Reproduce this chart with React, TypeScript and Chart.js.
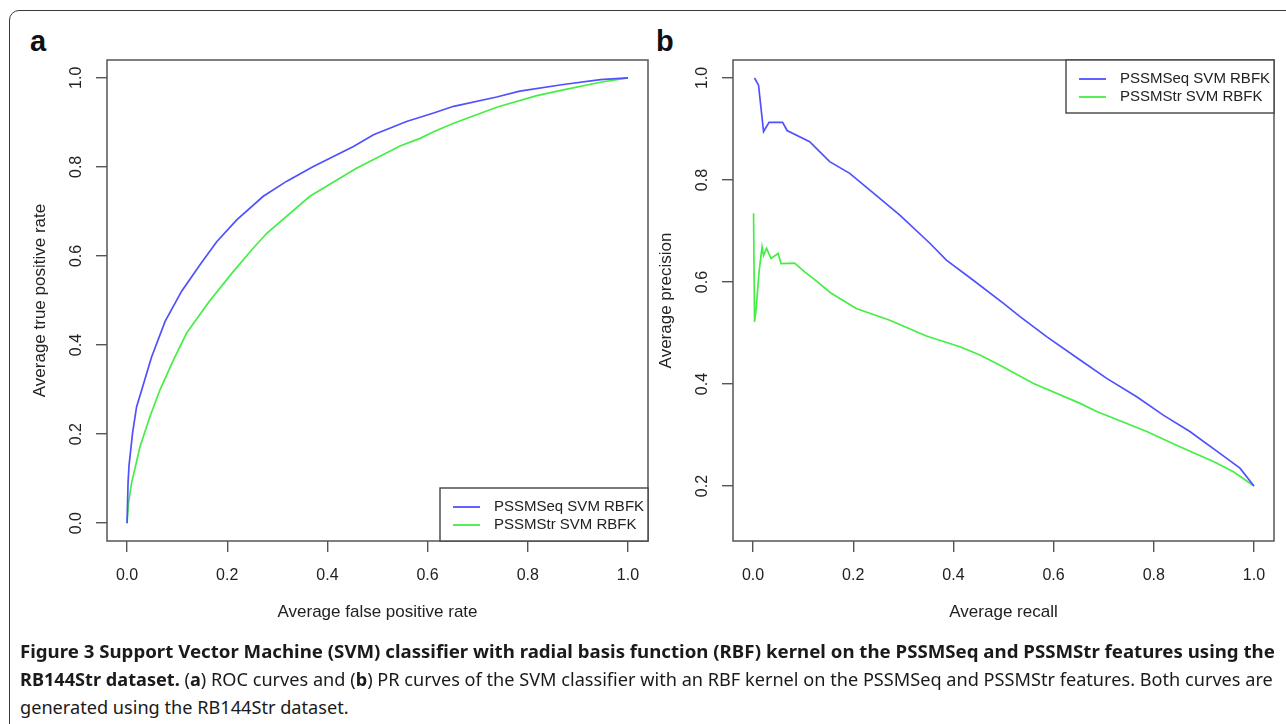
import React, { useEffect, useLayoutEffect, useRef, useState } from "react";
import { Chart, registerables } from "chart.js";
Chart.register(...registerables);

// ---------- data ----------
const seriesLabels = ["PSSMSeq SVM RBFK", "PSSMStr SVM RBFK"];
const seriesColors = ["#5050ff", "#45ee45"];

// Panel a: ROC curves
const rocFprSeq = [0, 0.002, 0.004, 0.011, 0.019, 0.033, 0.049, 0.076, 0.109, 0.146, 0.179, 0.219, 0.272, 0.319, 0.372, 0.452, 0.492, 0.558, 0.612, 0.652, 0.738, 0.784, 0.871, 0.945, 1.0];
const rocTprSeq = [0, 0.09, 0.13, 0.202, 0.261, 0.313, 0.373, 0.453, 0.521, 0.581, 0.632, 0.681, 0.734, 0.768, 0.801, 0.846, 0.872, 0.902, 0.921, 0.936, 0.957, 0.970, 0.985, 0.996, 1.0];
const rocFprStr = [0, 0.003, 0.009, 0.026, 0.046, 0.066, 0.093, 0.119, 0.164, 0.21, 0.249, 0.279, 0.365, 0.458, 0.545, 0.585, 0.612, 0.652, 0.738, 0.818, 0.871, 0.945, 1.0];
const rocTprStr = [0, 0.045, 0.09, 0.172, 0.24, 0.3, 0.367, 0.427, 0.498, 0.562, 0.614, 0.651, 0.734, 0.797, 0.847, 0.864, 0.879, 0.898, 0.934, 0.96, 0.973, 0.99, 1.0];

// Panel b: PR curves
const prRecallSeq = [0.003, 0.011, 0.021, 0.032, 0.059, 0.068, 0.113, 0.153, 0.193, 0.253, 0.293, 0.353, 0.386, 0.439, 0.5, 0.533, 0.586, 0.653, 0.706, 0.766, 0.819, 0.872, 0.932, 0.972, 1.0];
const prPrecSeq = [1.0, 0.986, 0.895, 0.913, 0.913, 0.897, 0.875, 0.836, 0.813, 0.764, 0.731, 0.676, 0.643, 0.604, 0.558, 0.532, 0.493, 0.447, 0.411, 0.375, 0.339, 0.307, 0.264, 0.235, 0.2];
const prRecallStr = [0.001, 0.003, 0.006, 0.012, 0.018, 0.021, 0.027, 0.036, 0.05, 0.056, 0.083, 0.103, 0.12, 0.156, 0.206, 0.273, 0.346, 0.413, 0.453, 0.493, 0.56, 0.653, 0.686, 0.786, 0.852, 0.919, 0.959, 1.0];
const prPrecStr = [0.735, 0.522, 0.545, 0.62, 0.669, 0.652, 0.666, 0.646, 0.656, 0.636, 0.637, 0.62, 0.607, 0.578, 0.548, 0.525, 0.494, 0.473, 0.457, 0.437, 0.401, 0.362, 0.346, 0.307, 0.277, 0.248, 0.228, 0.2];

// tick values
const rocTicks = [0, 0.2, 0.4, 0.6, 0.8, 1.0];
const prXTicks = [0, 0.2, 0.4, 0.6, 0.8, 1.0];
const prYTicks = [0.2, 0.4, 0.6, 0.8, 1.0];

const FONT = "'Liberation Sans', Arial, Helvetica, sans-serif";

function pairs(xs: number[], ys: number[]) {
  return xs.map((x, i) => ({ x, y: ys[i] }));
}

const frameAndLegend = {
  id: "frameAndLegend",
  afterDraw(chart: any, _args: any, opts: any) {
    const { ctx, chartArea: a } = chart;
    ctx.save();
    ctx.strokeStyle = "#555";
    ctx.lineWidth = 1.5;
    ctx.strokeRect(a.left, a.top, a.right - a.left, a.bottom - a.top);
    const w = 208;
    const h = 53;
    const bx = a.right - w;
    const by = opts.corner === "top" ? a.top : a.bottom - h;
    ctx.fillStyle = "#fff";
    ctx.fillRect(bx, by, w, h);
    ctx.strokeStyle = "#444";
    ctx.lineWidth = 1.4;
    ctx.strokeRect(bx, by, w, h);
    chart.data.datasets.forEach((ds: any, i: number) => {
      const y = by + 19 + i * 18;
      ctx.strokeStyle = ds.borderColor;
      ctx.lineWidth = 1.8;
      ctx.beginPath();
      ctx.moveTo(bx + 13, y);
      ctx.lineTo(bx + 40, y);
      ctx.stroke();
      ctx.fillStyle = "#222";
      ctx.font = `15px ${FONT}`;
      ctx.textBaseline = "middle";
      ctx.textAlign = "left";
      ctx.fillText(ds.label, bx + 54, y);
    });
    ctx.restore();
  },
};

type PanelProps = {
  left: number;
  width: number;
  height: number;
  seq: { x: number; y: number }[];
  str: { x: number; y: number }[];
  xTicks: number[];
  yTicks: number[];
  xRange: [number, number];
  yRange: [number, number];
  xTitle: string;
  yTitle: string;
  yWidth: number;
  yTitlePad: number;
  padRight: number;
  corner: "top" | "bottom";
};

function Panel(p: PanelProps) {
  const ref = useRef<HTMLCanvasElement>(null);
  useEffect(() => {
    if (!ref.current) return;
    const tickFont = { family: FONT, size: 16 };
    const titleFont = { family: FONT, size: 17 };
    const grid = {
      display: true,
      drawOnChartArea: false,
      drawTicks: true,
      tickLength: 11,
      color: "#555",
      tickColor: "#555",
      lineWidth: 1.4,
    };
    const chart = new Chart(ref.current, {
      type: "scatter",
      data: {
        datasets: [
          { label: seriesLabels[0], data: p.seq, borderColor: seriesColors[0], backgroundColor: seriesColors[0], showLine: true, pointRadius: 0, borderWidth: 1.7, tension: 0, fill: false },
          { label: seriesLabels[1], data: p.str, borderColor: seriesColors[1], backgroundColor: seriesColors[1], showLine: true, pointRadius: 0, borderWidth: 1.7, tension: 0, fill: false },
        ],
      },
      options: {
        responsive: false,
        animation: false,
        devicePixelRatio: 1,
        layout: { autoPadding: false, padding: { left: 0, top: 60, right: p.padRight, bottom: p.height - 541 - 90 } },
        plugins: {
          legend: { display: false },
          tooltip: { enabled: false },
          frameAndLegend: { corner: p.corner },
        } as any,
        scales: {
          x: {
            type: "linear",
            min: p.xRange[0],
            max: p.xRange[1],
            grid,
            border: { display: false },
            afterBuildTicks: (s: any) => {
              s.ticks = p.xTicks.map((v) => ({ value: v }));
            },
            afterFit: (s: any) => {
              s.height = 90;
            },
            ticks: {
              autoSkip: false,
              maxRotation: 0,
              minRotation: 0,
              padding: 14,
              color: "#222",
              font: tickFont,
              callback: (v: any) => Number(v).toFixed(1),
            },
            title: { display: true, text: p.xTitle, color: "#222", font: titleFont, padding: { top: 0, bottom: 8 } },
          },
          y: {
            type: "linear",
            min: p.yRange[0],
            max: p.yRange[1],
            grid,
            border: { display: false },
            afterBuildTicks: (s: any) => {
              s.ticks = p.yTicks.map((v) => ({ value: v }));
            },
            afterFit: (s: any) => {
              s.width = p.yWidth;
            },
            ticks: {
              autoSkip: false,
              minRotation: 90,
              maxRotation: 90,
              crossAlign: "center",
              padding: 8,
              color: "#222",
              font: tickFont,
              callback: (v: any) => Number(v).toFixed(1),
            },
            title: { display: true, text: p.yTitle, color: "#222", font: titleFont, padding: { top: p.yTitlePad, bottom: 0 } },
          },
        },
      } as any,
      plugins: [frameAndLegend as any],
    });
    return () => chart.destroy();
  }, []);
  return (
    <canvas
      ref={ref}
      width={p.width}
      height={p.height}
      style={{ position: "absolute", left: p.left, top: 0, width: p.width, height: p.height }}
    />
  );
}

function FitLine(props: { top: number; target: number; scaleFrom?: number; onScale?: (s: number) => void; children: React.ReactNode }) {
  const ref = useRef<HTMLDivElement>(null);
  const [scale, setScale] = useState(1);
  useLayoutEffect(() => {
    if (!ref.current) return;
    if (props.scaleFrom !== undefined) {
      setScale(props.scaleFrom);
      return;
    }
    const w = ref.current.scrollWidth;
    const s = w > 0 ? props.target / w : 1;
    setScale(s);
    props.onScale && props.onScale(s);
  }, [props.scaleFrom]);
  return (
    <div
      ref={ref}
      style={{
        position: "absolute",
        left: 20,
        top: props.top,
        whiteSpace: "nowrap",
        fontFamily: "'Noto Sans', 'Open Sans', sans-serif",
        fontSize: 18,
        lineHeight: "28px",
        color: "#1a1a1a",
        transformOrigin: "0 0",
        transform: `scaleX(${scale})`,
      }}
    >
      {props.children}
    </div>
  );
}

export default function App() {
  const [s2, setS2] = useState<number | undefined>(undefined);
  return (
    <div style={{ position: "absolute", left: 0, top: 0, width: 1286, height: 724, overflow: "hidden", background: "#fff" }}>
      <div
        style={{
          position: "absolute",
          left: 9,
          top: 10,
          width: 1400,
          height: 900,
          border: "1.5px solid #3a3a3a",
          borderRadius: 10,
          boxSizing: "border-box",
        }}
      />
      <div style={{ position: "absolute", left: 30, top: 27, fontFamily: FONT, fontWeight: "bold", fontSize: 29, lineHeight: "29px", color: "#111" }}>a</div>
      <div style={{ position: "absolute", left: 656, top: 27, fontFamily: FONT, fontWeight: "bold", fontSize: 29, lineHeight: "29px", color: "#111" }}>b</div>
      <Panel
        left={0}
        width={655}
        height={640}
        seq={pairs(rocFprSeq, rocTprSeq)}
        str={pairs(rocFprStr, rocTprStr)}
        xTicks={rocTicks}
        yTicks={rocTicks}
        xRange={[-0.04, 1.04]}
        yRange={[-0.04, 1.04]}
        xTitle="Average false positive rate"
        yTitle="Average true positive rate"
        yWidth={107}
        yTitlePad={30}
        padRight={7}
        corner="bottom"
      />
      <Panel
        left={650}
        width={636}
        height={640}
        seq={pairs(prRecallSeq, prPrecSeq)}
        str={pairs(prRecallStr, prPrecStr)}
        xTicks={prXTicks}
        yTicks={prYTicks}
        xRange={[-0.04, 1.04]}
        yRange={[0.0922, 1.0353]}
        xTitle="Average recall"
        yTitle="Average precision"
        yWidth={83}
        yTitlePad={6}
        padRight={12}
        corner="top"
      />
      <FitLine top={637} target={1255}>
        <b>Figure 3 Support Vector Machine (SVM) classifier with radial basis function (RBF) kernel on the PSSMSeq and PSSMStr features using the</b>
      </FitLine>
      <FitLine top={665} target={1253} onScale={(s) => setS2(s)}>
        <b>RB144Str dataset.</b> (<b>a</b>) ROC curves and (<b>b</b>) PR curves of the SVM classifier with an RBF kernel on the PSSMSeq and PSSMStr features. Both curves are
      </FitLine>
      {s2 !== undefined && (
        <FitLine top={693} target={0} scaleFrom={s2}>
          generated using the RB144Str dataset.
        </FitLine>
      )}
    </div>
  );
}
